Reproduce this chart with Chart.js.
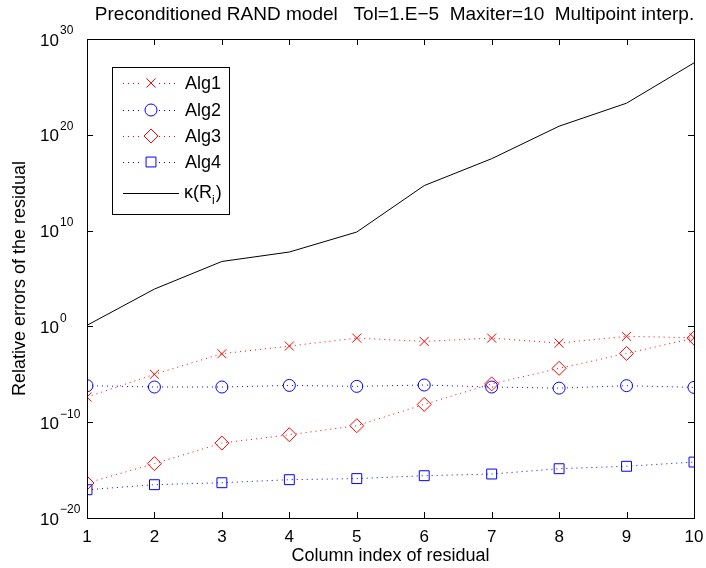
<!DOCTYPE html>
<html>
<head>
<meta charset="utf-8">
<script src="https://cdn.jsdelivr.net/npm/chart.js@4.4.0/dist/chart.umd.min.js"></script>
<style>
html, body { margin: 0; padding: 0; background: #fff; }
#wrap { width: 706px; height: 568px; }
</style>
</head>
<body>
<div id="wrap"><canvas id="chart" width="706" height="568"></canvas></div>
<script>
// values (log axis)
const columns = [1, 2, 3, 4, 5, 6, 7, 8, 9, 10];
const alg1 = [4.2e-8, 1.0e-5, 1.4e-3, 8.9e-3, 6.0e-2, 2.7e-2, 6.0e-2, 1.8e-2, 9.1e-2, 6.6e-2];
const alg2 = [6.5e-7, 4.7e-7, 4.7e-7, 6.9e-7, 5.5e-7, 7.6e-7, 4.7e-7, 3.6e-7, 6.5e-7, 4.3e-7];
const alg3 = [4.5e-17, 4.7e-15, 6.6e-13, 4.9e-12, 4.3e-11, 7.2e-9, 1.0e-6, 4.2e-5, 1.5e-3, 6.0e-2];
const alg4 = [8.9e-18, 3.0e-17, 4.8e-17, 1.0e-16, 1.3e-16, 2.6e-16, 3.9e-16, 1.4e-15, 2.5e-15, 6.9e-15];
const kappa = [1.3, 7.9e3, 6.0e6, 5.8e7, 7.1e9, 5.0e14, 3.2e17, 7.9e20, 2.0e23, 3.2e27];

const yTickExps = [-20, -10, 0, 10, 20, 30];
const yTickLabels = ['\u221220', '\u221210', '0', '10', '20', '30'];

const titleText = 'Preconditioned RAND model   Tol=1.E\u22125  Maxiter=10  Multipoint interp.';
const xTitle = 'Column index of residual';
const yTitle = 'Relative errors of the residual';

const FONT = "'Liberation Sans', Arial, Helvetica, sans-serif";
const RED = '#ff0000';
const BLUE = '#0000ff';

function series(label, values, color, style, radius, dashed) {
    return {
        label: label,
        data: columns.map((c, i) => ({x: c, y: values[i]})),
        borderColor: color,
        backgroundColor: 'rgba(0,0,0,0)',
        pointBorderColor: color,
        pointBackgroundColor: 'rgba(0,0,0,0)',
        borderWidth: 1,
        borderDash: dashed ? [1, 4] : [],
        pointStyle: style,
        pointRadius: radius,
        pointBorderWidth: 1,
        pointHoverRadius: radius,
        tension: 0
    };
}

// axes box, inward ticks, tick labels, titles and legend
const matlabAxes = {
    id: 'matlabAxes',
    afterDatasetsDraw(chart) {
        const ctx = chart.ctx;
        const a = chart.chartArea;
        const xs = chart.scales.x;
        const ys = chart.scales.y;
        ctx.save();
        ctx.strokeStyle = '#000';
        ctx.lineWidth = 1;
        ctx.setLineDash([]);
        ctx.strokeRect(a.left + 0.5, a.top + 0.5, a.right - a.left, a.bottom - a.top);

        const tl = 6;
        ctx.beginPath();
        columns.forEach(c => {
            const px = Math.round(xs.getPixelForValue(c)) + 0.5;
            ctx.moveTo(px, a.bottom); ctx.lineTo(px, a.bottom - tl);
            ctx.moveTo(px, a.top); ctx.lineTo(px, a.top + tl);
        });
        yTickExps.forEach(e => {
            const py = Math.round(ys.getPixelForValue(Math.pow(10, e))) + 0.5;
            ctx.moveTo(a.left, py); ctx.lineTo(a.left + tl, py);
            ctx.moveTo(a.right, py); ctx.lineTo(a.right - tl, py);
        });
        ctx.stroke();

        ctx.fillStyle = '#000';
        ctx.font = '17px ' + FONT;
        ctx.textAlign = 'center';
        ctx.textBaseline = 'middle';
        columns.forEach(c => {
            ctx.fillText(String(c), xs.getPixelForValue(c), 537);
        });

        yTickExps.forEach((e, i) => {
            const py = ys.getPixelForValue(Math.pow(10, e));
            ctx.font = '17px ' + FONT;
            ctx.textAlign = 'right';
            ctx.textBaseline = 'middle';
            const base = 59;
            ctx.fillText('10', base, py + 2);
            ctx.font = '12px ' + FONT;
            ctx.textAlign = 'left';
            ctx.fillText(yTickLabels[i], base + 1, py - 8);
        });

        ctx.font = '18px ' + FONT;
        ctx.textAlign = 'center';
        ctx.textBaseline = 'middle';
        ctx.fillText(xTitle, (a.left + a.right) / 2, 556);
        ctx.save();
        ctx.translate(20, (a.top + a.bottom) / 2);
        ctx.rotate(-Math.PI / 2);
        ctx.fillText(yTitle, 0, 0);
        ctx.restore();
        ctx.font = '19px ' + FONT;
        ctx.fillText(titleText, (a.left + a.right) / 2 + 4, 15);

        // legend
        const lx = 112, ly = 67, lw = 117, lh = 147;
        ctx.fillStyle = '#fff';
        ctx.fillRect(lx, ly, lw, lh);
        ctx.strokeStyle = '#000';
        ctx.lineWidth = 1;
        ctx.strokeRect(lx + 0.5, ly + 0.5, lw, lh);
        const rows = [83, 110, 136, 162, 193];
        chart.data.datasets.forEach((ds, i) => {
            const y = rows[i];
            ctx.strokeStyle = ds.borderColor;
            ctx.lineWidth = 1;
            ctx.setLineDash(ds.borderDash);
            ctx.beginPath();
            if (ds.pointRadius > 0) {
                ctx.moveTo(123, y + 0.5); ctx.lineTo(143, y + 0.5);
                ctx.moveTo(159, y + 0.5); ctx.lineTo(179, y + 0.5);
            } else {
                ctx.moveTo(123, y + 0.5); ctx.lineTo(179, y + 0.5);
            }
            ctx.stroke();
            ctx.setLineDash([]);
            if (ds.pointRadius > 0 && Chart.helpers && Chart.helpers.drawPoint) {
                ctx.strokeStyle = ds.pointBorderColor;
                ctx.fillStyle = 'rgba(0,0,0,0)';
                Chart.helpers.drawPoint(ctx, {pointStyle: ds.pointStyle, radius: ds.pointRadius, borderWidth: 1, rotation: 0}, 151, y);
            }
            ctx.fillStyle = '#000';
            ctx.font = '18px ' + FONT;
            ctx.textAlign = 'left';
            ctx.textBaseline = 'middle';
            if (i < 4) {
                ctx.fillText(ds.label, 185, y + 1);
            } else {
                const main = '\u03BA(R';
                ctx.fillText(main, 184, y);
                const w1 = ctx.measureText(main).width;
                ctx.font = '12px ' + FONT;
                ctx.fillText('i', 184 + w1, y + 8);
                const w2 = ctx.measureText('i').width;
                ctx.font = '18px ' + FONT;
                ctx.fillText(')', 184 + w1 + w2 + 1, y);
            }
        });
        ctx.restore();
    }
};

new Chart(document.getElementById('chart'), {
    type: 'line',
    data: {
        datasets: [
            series('Alg1', alg1, RED, 'crossRot', 6.4, true),
            series('Alg2', alg2, BLUE, 'circle', 6, true),
            series('Alg3', alg3, RED, 'rectRot', 7, true),
            series('Alg4', alg4, BLUE, 'rect', 7, true),
            series('\u03BA(R_i)', kappa, '#000', 'circle', 0, false)
        ]
    },
    options: {
        responsive: false,
        animation: false,
        devicePixelRatio: 1,
        layout: {padding: {left: 87, right: 12, top: 39, bottom: 50}},
        plugins: {legend: {display: false}, tooltip: {enabled: false}, title: {display: false}},
        scales: {
            x: {
                type: 'linear', min: 1, max: 10,
                grid: {display: false}, border: {display: false},
                ticks: {display: false},
                afterFit: s => { s.height = 0; }
            },
            y: {
                type: 'logarithmic', min: 1e-20, max: 1e30,
                grid: {display: false}, border: {display: false},
                ticks: {display: false},
                afterFit: s => { s.width = 0; }
            }
        }
    },
    plugins: [matlabAxes]
});
</script>
</body>
</html>
